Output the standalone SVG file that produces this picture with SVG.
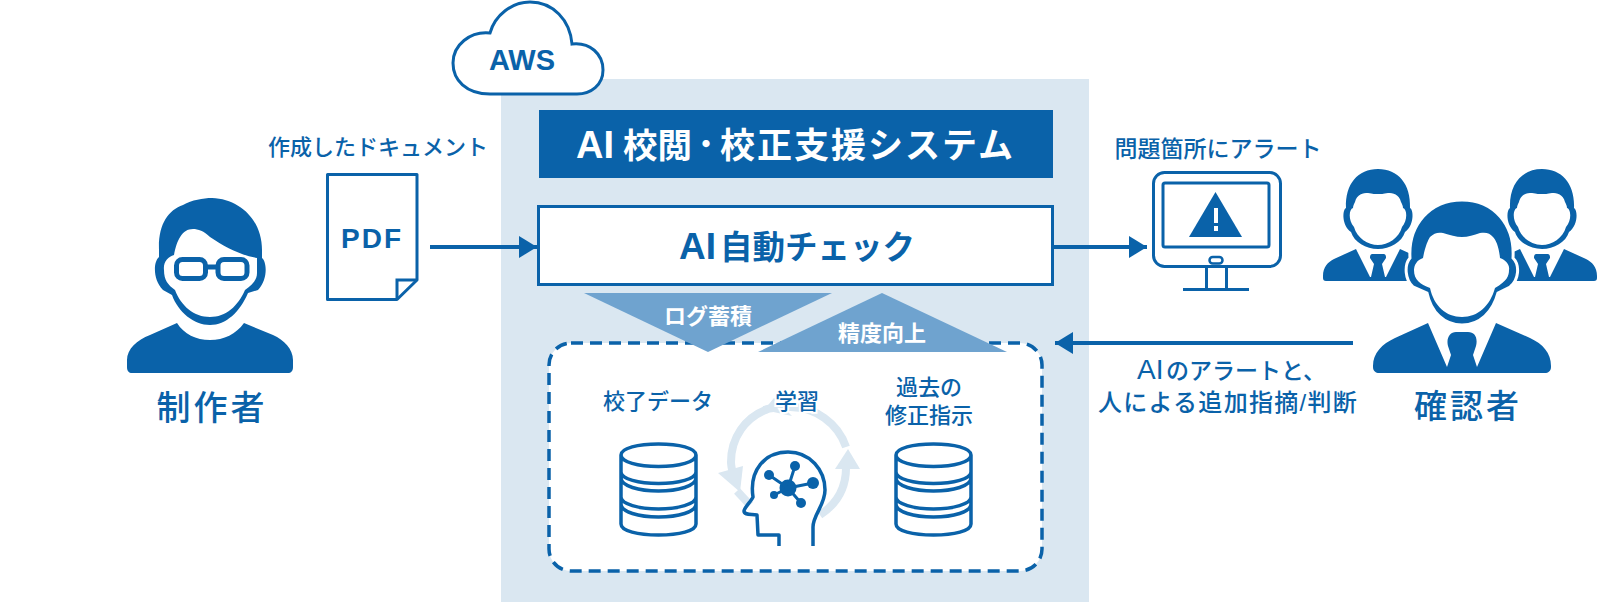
<svg xmlns="http://www.w3.org/2000/svg" width="1600" height="604" viewBox="0 0 1600 604">
<style>
text{font-family:"Liberation Sans","Noto Sans CJK JP","Noto Sans",sans-serif;fill:#0a62a9;text-anchor:middle}
.st{text-anchor:start}
.b{fill:#0a62a9}
.o{fill:none;stroke:#0a62a9;stroke-width:3.5;stroke-linejoin:round}
.c{fill:none;stroke:#0a62a9;stroke-width:5}
.t{fill:#6fa3cf}
.w{font-weight:700;font-size:22px}
.s{font-size:22px;font-weight:500}
.h{paint-order:stroke;stroke:#fff;stroke-width:4px}
.r{fill:none;stroke:#dae7f1;stroke-width:8}
.rh{fill:#dae7f1}
.line{stroke:#0a62a9;stroke-width:4;fill:none}
</style>
<defs>
<marker id="a" markerUnits="userSpaceOnUse" markerWidth="19" markerHeight="22" refX="18" refY="11" orient="auto"><path d="M0 0L18 11L0 22Z" fill="#0a62a9"/></marker>
<g id="db">
<path class="o" d="M0 11C0 4 17 0 37.500 0S75 4 75 11S58 22.500 37.500 22.500S0 18 0 11ZM0 11V80C0 87 17 91 37.500 91S75 87 75 80V11M0 28C0 35 18 39.500 37.500 39.500S75 35 75 28M0 34C0 42 18 47 37.500 47S75 42 75 34M0 53C0 60 18 65 37.500 65S75 60 75 53M0 60C0 68 18 73 37.500 73S75 68 75 60"/>
</g>
<g id="sm">
<path class="b" d="M-55 80C-55 71 -50 66 -44 63L-22 53L-8 81H-7L-4 68L-8 62V61C-8 59 -7 58 -5 58H5C7 58 8 59 8 61V62L4 68L7 81H8L22 53L44 63C50 66 55 71 55 80V82C55 84 54 85 52 85H-52C-54 85 -55 84 -55 82Z"/>
<path class="b" fill-rule="evenodd" d="M-32 12C-33 -12 -20 -27 0 -27S33 -12 32 12C36 14 36 30 27 36C24 46 12 53 0 53S-24 46 -27 36C-36 30 -36 14 -32 12ZM-23 6C-21 -2 -15 -3 -10 -3C-5 -2 -3 -2 0 -2S5 -2 10 -3C15 -3 21 -2 23 6C24 8 25 10 25 12C29 13 30 24 24 31C21 42 10 49 0 49S-21 42 -24 31C-30 24 -29 13 -25 12C-25 10 -24 8 -23 6Z"/>
</g>
</defs>
<rect id="panel" x="501" y="79" width="588" height="523" fill="#dae7f1"/>
<g id="cloud"><path d="M490 94C466 94 453 80 453 63C453 45 470 31 490 33C495 15 512 2 530 2C553 2 570 20 572 44C590 42 603 54 603 70C603 85 591 94 577 94Z" fill="#fff" stroke="#0a62a9" stroke-width="3"/><text x="522" y="70" font-size="29" font-weight="700">AWS</text></g>
<g id="title"><rect x="539" y="110" width="514" height="68" fill="#0a62a9"/><text class="st" y="158" font-weight="700" style="fill:#fff"><tspan x="576" font-size="38">AI</tspan><tspan x="623" font-size="34.500">校閲</tspan><tspan x="692" y="155" font-size="28">・</tspan><tspan x="720" y="158" font-size="35" letter-spacing="2">校正支援システム</tspan></text></g>
<g id="check"><rect x="538.500" y="206.500" width="514" height="78" fill="#fff" stroke="#0a62a9" stroke-width="3"/><text class="st" y="259" font-weight="700"><tspan x="679" font-size="37">AI</tspan><tspan x="720" font-size="32.500">自動チェック</tspan></text></g>
<g id="store"><rect x="549" y="343" width="493" height="228" rx="22" fill="#fff" stroke="#0a62a9" stroke-width="3.500" stroke-dasharray="12 7"/></g>
<g id="log"><path class="t" d="M584 293H832L708 352Z"/><text class="w" x="708" y="324" style="fill:#fff">ログ蓄積</text></g>
<g id="precision"><path class="t" d="M882 293L1007 352H758Z"/><text class="w" x="882" y="341" style="fill:#fff">精度向上</text></g>
<g id="producer">
<path class="b" d="M127 360C127 349 137 340 150 335L177 323C184 334 196 340 210 340S236 334 244 323L273 335C284 340 293 349 293 360V367C293 371 291 373 288 373H132C129 373 127 371 127 367Z"/>
<path class="b" fill-rule="evenodd" d="M159 250C158 225 168 210 183 205C192 200 203 198 212 198C240 199 262 220 262 250V258C267 262 268 280 258 290L248 293C240 312 226 325 210 325S178 312 172 295L163 290C153 280 153 262 159 257ZM174 255C168 257 163 262 164 270C164 280 168 285 175 290C181 306 194 317 210 317S238 306 245 290C252 285 257 280 257 273V258C240 255 225 247 210 237C204 231 198 229 193 229C182 229 177 240 174 255Z"/>
<rect x="176.500" y="259.500" width="29" height="19" rx="6" class="c"/><rect x="218" y="259.500" width="29" height="19" rx="6" class="c"/><path class="c" d="M205 267H218"/>
<text x="212" y="420" font-size="34" font-weight="500" letter-spacing="3">制作者</text></g>
<g id="doc"><text class="s" x="378" y="155">作成したドキュメント</text><path d="M327.500 174.500H417V280L397 299.500H327.500Z" fill="#fff" stroke="#0a62a9" stroke-width="3" stroke-linejoin="round"/><path d="M397 299.500V280H417" fill="none" stroke="#0a62a9" stroke-width="3"/><text x="372" y="248" font-size="28" font-weight="700" letter-spacing="2">PDF</text></g>
<g id="data1"><text class="s" x="658" y="409">校了データ</text><use href="#db" x="621" y="444"/></g>
<g id="learn">
<path class="r" d="M820 515C838 503 846 488 846 468"/><path class="rh" d="M848 449L860 469H835Z"/>
<path class="r" d="M846 447C838 423 815 407 790 407C775 407 770 408 764 410"/><path class="rh" d="M764 410L774 398L792 416Z"/>
<path class="r" d="M768 409C745 417 731 438 731 462C731 466 732 470 733 474"/><path class="rh" d="M718 473L743 466L740 492Z"/><path class="r" d="M737 491L750 505"/>
<path class="o" d="M779 546V535H758L757 515C750 514 744 515 744 511C744 508 752 500 753 497C749 470 765 452 788 452C810 452 825 470 825 490C825 505 813 515 813 527V546"/>
<g class="b"><circle cx="788" cy="488" r="8.500"/><circle cx="795" cy="466" r="5"/><circle cx="769" cy="475" r="5"/><circle cx="813" cy="483" r="6"/><circle cx="774" cy="495" r="4"/><circle cx="801" cy="503" r="5"/></g>
<path d="M788 488L795 466M788 488L769 475M788 488L813 483M788 488L774 495M788 488L801 503" stroke="#0a62a9" stroke-width="3" fill="none"/>
<text class="s h" x="797" y="409">学習</text></g>
<g id="data2"><text class="s" x="929" y="395">過去の</text><text class="s" x="929" y="423">修正指示</text><use href="#db" x="896" y="444"/></g>
<g id="monitor"><text class="s" x="1218" y="157" style="font-size:23px">問題箇所にアラート</text>
<rect x="1153.500" y="172.500" width="127" height="94" rx="11" fill="#fff" stroke="#0a62a9" stroke-width="3"/><rect x="1163" y="183" width="106" height="64" rx="2" fill="none" stroke="#0a62a9" stroke-width="3"/>
<path class="b" d="M1215.500 192L1242 237H1189Z"/><rect x="1214" y="208" width="4" height="15" fill="#fff"/><rect x="1214" y="226" width="4" height="5" fill="#fff"/>
<rect x="1209.500" y="257" width="13" height="6.500" rx="3.200" fill="none" stroke="#0a62a9" stroke-width="2.500"/>
<path d="M1206.500 267V289M1226.500 267V289M1183 289.500H1249" fill="none" stroke="#0a62a9" stroke-width="3"/></g>
<g id="reviewer">
<use href="#sm" x="1378" y="196"/><use href="#sm" x="1542" y="196"/>
<path d="M1373 366C1373 353 1382 344 1395 338L1428 323L1447 367L1451 355L1448 346C1446 338 1450 332 1456 332H1468C1475 332 1478 338 1476 346L1473 355L1477 367L1496 323L1530 338C1543 344 1551 353 1551 366V367C1551 371 1548 373 1545 373H1379C1376 373 1373 371 1373 367Z" class="b"/>
<path class="b" stroke="#fff" stroke-width="3" d="M1410 258C1408 225 1430 200 1462 200S1515 225 1513 258C1520 265 1519 280 1510 287L1498 293C1493 312 1480 325 1462 325S1431 312 1427 293L1413 287C1405 280 1404 265 1410 258Z"/>
<path fill="#fff" d="M1423 258C1425 247 1428 240 1430 237C1434 233 1438 232 1443 233C1450 235 1456 237 1462 237S1474 235 1480 233C1486 232 1490 233 1493 237C1496 240 1499 247 1500 258C1506 260 1510 265 1509 270C1509 276 1507 281 1495 288C1490 306 1478 317 1462 317S1434 306 1430 288C1420 284 1414 280 1414 270C1414 265 1417 260 1423 258Z"/>
<text x="1468" y="418" font-size="33" font-weight="500" letter-spacing="3">確認者</text></g>
<g id="connectors">
<path class="line" d="M430 247H537" marker-end="url(#a)"/>
<path class="line" d="M1053 247H1147" marker-end="url(#a)"/>
<path class="line" d="M1353 343H1055" marker-end="url(#a)"/>
</g>
<g id="labels"><text class="s st" y="379" font-weight="500"><tspan x="1137" font-size="28">AI</tspan><tspan x="1166" font-size="23">のアラートと、</tspan></text><text class="s" x="1228" y="411" style="font-size:24px" letter-spacing="1.300">人による追加指摘/判断</text></g>
</svg>
